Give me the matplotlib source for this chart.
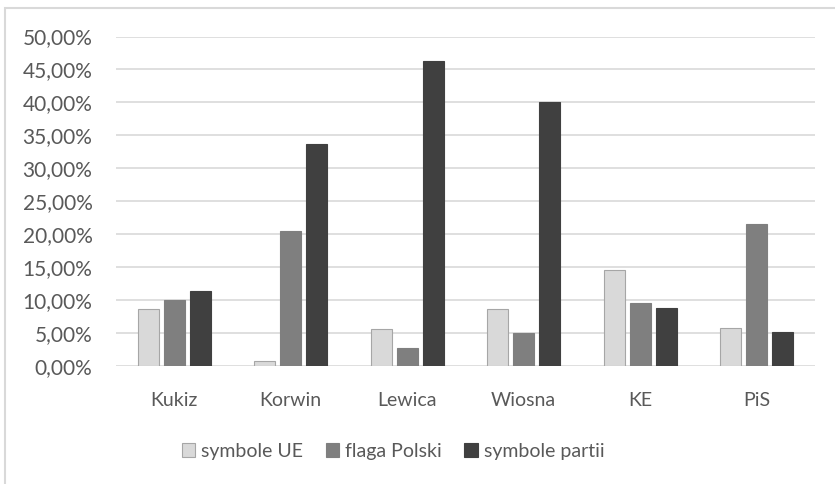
import matplotlib
matplotlib.use("Agg")
import matplotlib.pyplot as plt
import matplotlib.patches as patches
from matplotlib.ticker import FuncFormatter, MultipleLocator
import numpy as np

# dane (w procentach)
partie = ["Kukiz", "Korwin", "Lewica", "Wiosna", "KE", "PiS"]
symbole_ue = [8.6, 0.8, 5.6, 8.6, 14.5, 5.8]
flaga_polski = [10.0, 20.5, 2.7, 5.0, 9.5, 21.5]
symbole_partii = [11.4, 33.7, 46.3, 40.0, 8.8, 5.2]
serie = ["symbole UE", "flaga Polski", "symbole partii"]

plt.rcParams['font.family'] = ['Lato', 'DejaVu Sans']

W, H = 835, 484
fig = plt.figure(figsize=(W / 100, H / 100), dpi=100)
ax = fig.add_axes([116 / W, 1 - 366 / H, (815 - 116) / W, (366 - 36.5) / H])

x = np.arange(len(partie))
width = 0.18
step = 0.223
kolory = ["#d9d9d9", "#7f7f7f", "#404040"]
krawedzie = ["#a6a6a6", "#7f7f7f", "#404040"]
uchwyty = []
for i, (vals, c, e) in enumerate(zip([symbole_ue, flaga_polski, symbole_partii], kolory, krawedzie)):
    b = ax.bar(x + (i - 1) * step, np.array(vals) / 100, width, color=c,
               edgecolor=e, linewidth=0.8, zorder=3, label=serie[i])
    uchwyty.append(b)

ax.set_xlim(-0.5, len(partie) - 0.5)
ax.set_ylim(0, 0.5)
ax.yaxis.set_major_locator(MultipleLocator(0.05))
ax.yaxis.set_major_formatter(FuncFormatter(lambda v, p: f"{v * 100:.2f}%".replace(".", ",")))
ax.grid(axis="y", color="#d9d9d9", linewidth=1.2, zorder=0)
ax.set_axisbelow(True)
for s in ax.spines.values():
    s.set_visible(False)
ax.set_xticks(x)
ax.set_xticklabels(partie)
ax.tick_params(axis="both", length=0, labelcolor="#595959")
ax.tick_params(axis="y", pad=17, labelsize=15)
ax.tick_params(axis="x", pad=19, labelsize=14)

fig.legend(handles=uchwyty, labels=serie, loc="center",
           bbox_to_anchor=(393 / W, 1 - 451 / H), ncol=3, frameon=False,
           fontsize=14, labelcolor="#595959", handlelength=0.7,
           handleheight=0.7, handletextpad=0.3, columnspacing=1.15)

# ramka obszaru wykresu
fig.patches.append(patches.Rectangle((5 / W, -0.1), 2, 1 - 8 / H + 0.1,
                                     transform=fig.transFigure, fill=False,
                                     edgecolor="#d9d9d9", linewidth=1.5))

fig.savefig("out.png", dpi=100, facecolor="white")
